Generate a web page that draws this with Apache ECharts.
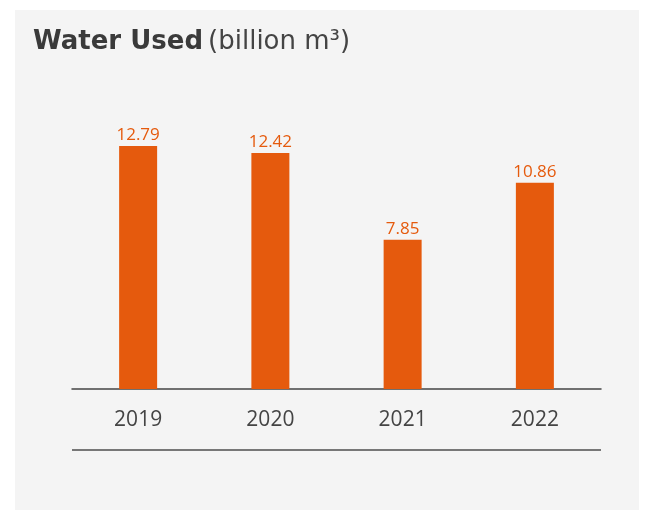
<!DOCTYPE html>
<html>
<head>
<meta charset="utf-8">
<script src="https://cdn.jsdelivr.net/npm/echarts@6/dist/echarts.min.js"></script>
<style>
  html, body { margin: 0; padding: 0; background: #fff; }
  #chart { width: 645px; height: 510px; }
</style>
</head>
<body>
<div id="chart"></div>
<script>
// 数据
const years = ["2019", "2020", "2021", "2022"];
const waterUsed = [12.79, 12.42, 7.85, 10.86];

const orange = "#e55a0d";

const chartObj = echarts.init(document.getElementById("chart"));

const option = {
  backgroundColor: "#fff",
  title: {
    text: "{b|Water Used} {n|(billion m³)}",
    left: 28,
    top: 24,
    textStyle: {
      rich: {
        b: { fontFamily: "DejaVu Sans", fontWeight: "bold", fontSize: 26, color: "#3a3a3a" },
        n: { fontFamily: "DejaVu Sans", fontWeight: "normal", fontSize: 26, color: "#444" }
      }
    }
  },
  // 背景面板 + 底部横线
  graphic: [
    {
      type: "rect",
      z: -10,
      shape: { x: 15, y: 10, width: 624, height: 500 },
      style: { fill: "#f4f4f4" }
    },
    {
      type: "line",
      shape: { x1: 72, y1: 450, x2: 601, y2: 450 },
      style: { stroke: "#777", lineWidth: 2 }
    }
  ],
  grid: {
    left: 72,
    right: 44,
    top: 123,
    bottom: 121
  },
  xAxis: {
    type: "category",
    data: years,
    axisLine: { lineStyle: { color: "#444", width: 1.5 } },
    axisTick: { show: false },
    axisLabel: {
      margin: 21,
      fontFamily: "Open Sans",
      fontSize: 21,
      color: "#444"
    }
  },
  yAxis: {
    type: "value",
    min: 0,
    max: 14,
    show: false
  },
  series: [
    {
      type: "bar",
      data: waterUsed,
      barWidth: 38,
      itemStyle: { color: orange },
      label: {
        show: true,
        position: "top",
        distance: 2,
        fontFamily: "Open Sans",
        fontSize: 17,
        color: orange,
        formatter: p => p.value.toFixed(2)
      }
    }
  ]
};

chartObj.setOption(option);
</script>
</body>
</html>
